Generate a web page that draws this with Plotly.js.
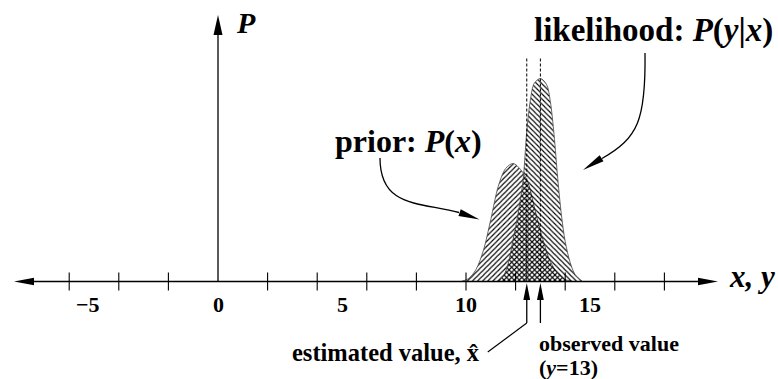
<!DOCTYPE html>
<html><head><meta charset="utf-8">
<script src="https://cdn.plot.ly/plotly-3.0.1.min.js"></script>
<style>html,body{margin:0;padding:0;background:#fff}</style>
</head><body><div id="chart" style="width:778px;height:379px"></div>
<script>
// ---- data ----
const priorX = [9.8, 10.1, 10.4, 10.7, 11.0, 11.3, 11.6, 11.9, 12.2, 12.5, 12.8, 13.1, 13.4, 13.7, 14.0, 14.3];
const priorY = [0, 0.010, 0.041, 0.107, 0.214, 0.328, 0.390, 0.407, 0.386, 0.341, 0.241, 0.145, 0.069, 0.028, 0.007, 0];
const likeX = [11.3, 11.5, 11.7, 11.9, 12.1, 12.3, 12.45, 12.6, 12.75, 13.0, 13.25, 13.4, 13.55, 13.7, 13.85, 14.0, 14.2, 14.4, 14.7];
const likeY = [0, 0.017, 0.062, 0.145, 0.234, 0.348, 0.517, 0.628, 0.683, 0.700, 0.679, 0.621, 0.507, 0.355, 0.228, 0.138, 0.066, 0.024, 0];
const tickValues = [-6, -4, -2, 2, 4, 6, 8, 10, 12, 14, 16, 18];
const tickLabelValues = [-5, 0, 5, 10, 15];
const tickLabelTexts = ['\u22125', '0', '5', '10', '15'];
const estimatedValue = 12.45;
const observedValue = 13;

// ---- geometry helpers (pixel <-> data) ----
const W = 778, H = 379;
const X0PX = 218, XPX = 24.8, Y0PX = 281.5, YPX = 290;
const toX = px => (px - X0PX) / XPX;
const toY = py => (Y0PX - py) / YPX;
const fromX = x => X0PX + x * XPX;
const pX = px => px / W;
const pY = py => 1 - py / H;
const FONT = 'Liberation Serif, Times New Roman, serif';

function head(tx, ty, ux, uy, len, hw) {
  const m = Math.hypot(ux, uy); ux /= m; uy /= m;
  const bx = tx - len * ux, by = ty - len * uy;
  const nx = -uy, ny = ux;
  const pts = [[tx, ty], [bx + hw * nx, by + hw * ny], [bx - hw * nx, by - hw * ny]];
  const d = 'M' + pts.map(p => toX(p[0]) + ',' + toY(p[1])).join(' L') + ' Z';
  return {type: 'path', xref: 'x', yref: 'y', path: d, fillcolor: '#000', line: {width: 0}};
}
function line(x0, y0, x1, y1, extra) {
  return Object.assign({type: 'line', xref: 'x', yref: 'y', x0: x0, y0: y0, x1: x1, y1: y1,
    line: {color: '#000', width: 1.3}}, extra || {});
}
function curve(pts) {
  const c = pts.map(p => toX(p[0]) + ',' + toY(p[1]));
  return {type: 'path', xref: 'x', yref: 'y', path: 'M' + c[0] + ' C' + c[1] + ' ' + c[2] + ' ' + c[3],
    line: {color: '#000', width: 1.3}};
}

const shapes = [];
// x axis with arrows both ends
shapes.push(line(toX(30), 0, toX(702), 0));
shapes.push(head(14, Y0PX, -1, 0, 20, 3.8));
shapes.push(head(718, Y0PX, 1, 0, 20, 3.8));
// y axis
shapes.push(line(0, 0, 0, toY(30)));
shapes.push(head(X0PX, 15, 0, -1, 20, 4.5));
// ticks
tickValues.forEach(v => shapes.push(line(v, toY(Y0PX - 9), v, toY(Y0PX + 9), {line: {color: '#000', width: 1.1}})));
// dashed markers
[estimatedValue, observedValue].forEach(v => shapes.push(line(v, 0, v, toY(58), {line: {color: '#000', width: 1, dash: '3px,2px'}})));
// arrows to estimated / observed value
[estimatedValue, observedValue].forEach(v => {
  const px = fromX(v);
  shapes.push(head(px, 283, 0, -1, 17, 3.4));
  shapes.push({type: 'line', xref: 'x', yref: 'y', x0: v, y0: toY(298), x1: v, y1: toY(323), line: {color: '#000', width: 1.3}});
});
const ex = fromX(estimatedValue);
shapes.push({type: 'line', xref: 'x', yref: 'y', x0: estimatedValue, y0: toY(323), x1: toX(ex - 39), y1: toY(352), line: {color: '#000', width: 1.1}});
// curved arrow: prior
shapes.push(curve([[380, 158], [380, 208], [420, 202], [459, 212.5]]));
shapes.push(head(479.5, 219.5, 20.5, 7, 21, 3.6));
// curved arrow: likelihood
shapes.push(curve([[645, 53], [646, 120], [638, 138], [602, 158.5]]));
shapes.push(head(583, 170, -18.4, 11.7, 22, 3.6));

const traces = [
  {x: priorX, y: priorY, type: 'scatter', mode: 'lines', fill: 'tozeroy',
   line: {color: '#444', width: 0.8, shape: 'spline', smoothing: 0.9},
   fillcolor: 'rgba(255,255,255,0)',
   fillpattern: {shape: '/', fgcolor: '#000', bgcolor: 'rgba(255,255,255,0)', size: 3.6, solidity: 0.32},
   hoverinfo: 'skip'},
  {x: likeX, y: likeY, type: 'scatter', mode: 'lines', fill: 'tozeroy',
   line: {color: '#444', width: 0.8, shape: 'spline', smoothing: 0.9},
   fillcolor: 'rgba(255,255,255,0)',
   fillpattern: {shape: '\\', fgcolor: '#000', bgcolor: 'rgba(255,255,255,0)', size: 3.6, solidity: 0.32},
   hoverinfo: 'skip'}
];

const ann = [];
function txt(text, px, py, size, xanchor, extra) {
  ann.push(Object.assign({text: text, xref: 'paper', yref: 'paper', x: pX(px), y: pY(py),
    xanchor: xanchor, yanchor: 'middle', showarrow: false,
    font: {family: FONT, size: size, color: '#000'}}, extra || {}));
}
tickLabelValues.forEach((v, i) => {
  ann.push({text: '<b>' + tickLabelTexts[i] + '</b>', xref: 'x', yref: 'paper', x: v, y: pY(304),
    xanchor: 'center', yanchor: 'middle', showarrow: false, xshift: v < 0 ? -6 : 0,
    font: {family: FONT, size: 22, color: '#000'}});
});
txt('<b><i>P</i></b>', 234, 23, 30, 'left');
txt('<b><i>x, y</i></b>', 727, 276, 31, 'left');
txt('<b>likelihood: <i>P</i>(<i>y</i>|<i>x</i>)</b>', 532, 30, 33, 'left');
txt('<b>prior: <i>P</i>(<i>x</i>)</b>', 333, 141, 32, 'left');
txt('<b>estimated value, x\u0302</b>', 482, 352, 24.5, 'right');
txt('<b>observed value</b>', 537, 343, 22, 'left');
txt('<b>(<i>y</i>=13)</b>', 537, 367, 22, 'left');

const layout = {
  width: W, height: H, margin: {l: 0, r: 0, t: 0, b: 0},
  paper_bgcolor: '#fff', plot_bgcolor: '#fff', showlegend: false,
  xaxis: {range: [toX(0), toX(W)], visible: false, fixedrange: true},
  yaxis: {range: [toY(H), toY(0)], visible: false, fixedrange: true},
  shapes: shapes, annotations: ann
};
Plotly.newPlot('chart', traces, layout, {staticPlot: true, displayModeBar: false});
</script></body></html>
